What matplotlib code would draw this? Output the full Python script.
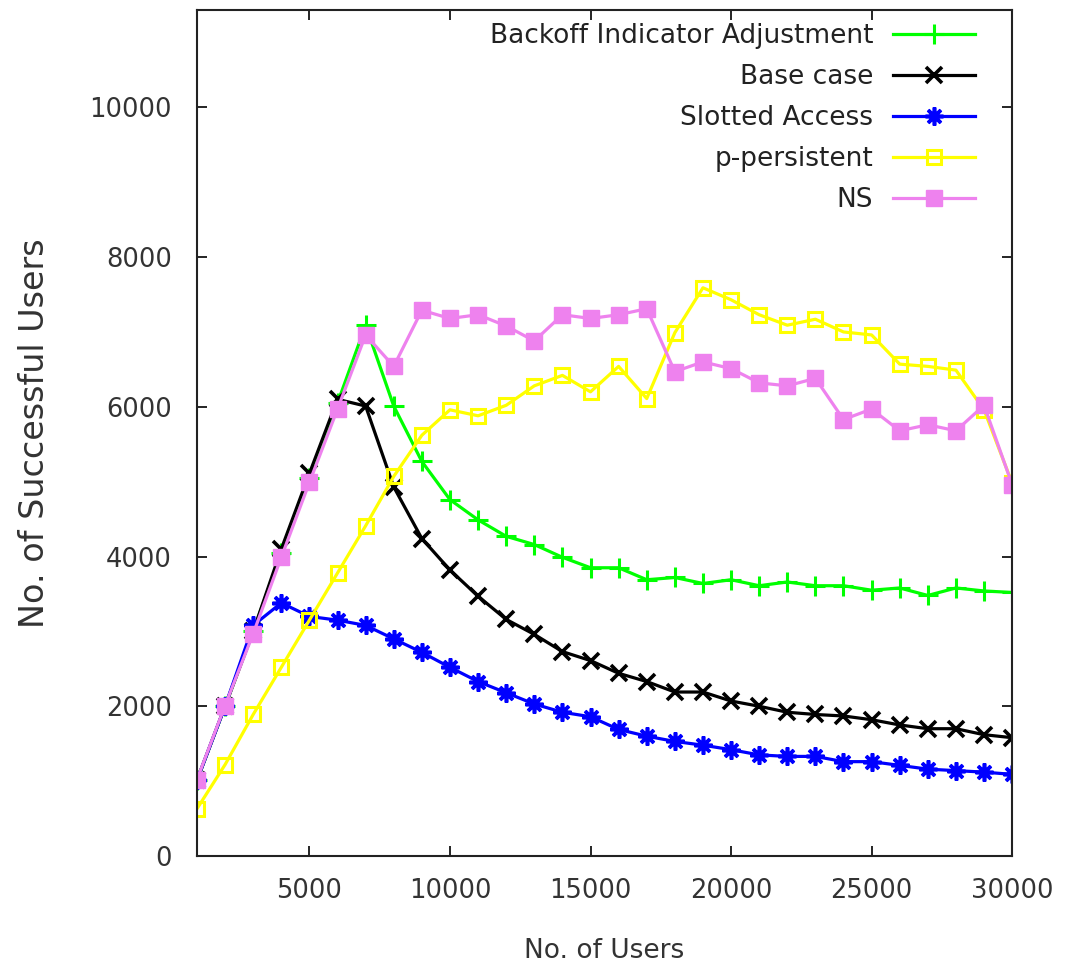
import matplotlib
matplotlib.use("Agg")
import matplotlib.pyplot as plt

users = [1000, 2000, 3000, 4000, 5000, 6000, 7000, 8000, 9000, 10000,
         11000, 12000, 13000, 14000, 15000, 16000, 17000, 18000, 19000, 20000,
         21000, 22000, 23000, 24000, 25000, 26000, 27000, 28000, 29000, 30000]

backoff = [1010, 2000, 3000, 4050, 5050, 6050, 7090, 6010, 5270, 4760,
           4490, 4270, 4160, 3990, 3850, 3850, 3690, 3720, 3640, 3690,
           3610, 3660, 3610, 3610, 3550, 3580, 3480, 3580, 3540, 3520]
base = [1010, 2000, 3000, 4100, 5110, 6100, 6010, 4930, 4240, 3820,
        3470, 3160, 2960, 2730, 2610, 2440, 2330, 2190, 2190, 2070,
        2000, 1920, 1890, 1870, 1820, 1750, 1700, 1700, 1620, 1580]
slotted = [1010, 2000, 3080, 3380, 3200, 3150, 3080, 2900, 2720, 2520,
           2330, 2180, 2030, 1920, 1860, 1690, 1600, 1530, 1480, 1420,
           1350, 1330, 1330, 1260, 1260, 1210, 1160, 1140, 1120, 1090]
ppersist = [630, 1220, 1890, 2520, 3150, 3780, 4410, 5070, 5620, 5960,
            5880, 6020, 6280, 6420, 6200, 6540, 6110, 6990, 7590, 7430,
            7230, 7090, 7170, 7000, 6960, 6570, 6540, 6490, 5960, 4980]
ns = [1020, 2010, 2970, 3990, 4990, 5970, 6960, 6540, 7290, 7180,
      7230, 7080, 6880, 7230, 7180, 7230, 7310, 6470, 6600, 6510,
      6320, 6280, 6380, 5830, 5970, 5680, 5760, 5680, 6020, 4960]

labels = ["Backoff Indicator Adjustment", "Base case", "Slotted Access",
          "p-persistent", "NS"]
xticks = [5000, 10000, 15000, 20000, 25000, 30000]
yticks = [0, 2000, 4000, 6000, 8000, 10000]

plt.rcParams['font.family'] = ['DejaVu Sans']
fig = plt.figure(figsize=(10.67, 9.66), dpi=100)
ax = fig.add_axes([0.1846, 0.1139, 0.764, 0.8757])

lw = 2.3
ax.plot(users, backoff, color='#00ff00', lw=lw, marker='+', ms=14, mew=2.2, label=labels[0])
ax.plot(users, base, color='black', lw=lw, marker='x', ms=11, mew=2.6, label=labels[1])
ax.plot(users, slotted, color='#0000ff', lw=lw, marker=(8, 2, 0), ms=13, mew=2.6, label=labels[2])
ax.plot(users, ppersist, color='#ffff00', lw=lw, marker='s', ms=10, mew=2.2,
        mfc='none', mec='#ffff00', label=labels[3])
ax.plot(users, ns, color='#ee82ee', lw=lw, marker='s', ms=12, mew=1, label=labels[4])

ax.set_xlim(1000, 30000)
ax.set_ylim(0, 11300)
ax.set_xticks(xticks)
ax.set_yticks(yticks)
ax.tick_params(direction='in', length=7, width=1.2, top=True, right=True,
               labelsize=18.5, labelcolor='#333333')
ax.tick_params(axis='x', pad=16)
ax.tick_params(axis='y', pad=18)
for s in ax.spines.values():
    s.set_linewidth(1.5)
    s.set_color('#222222')

ax.set_xlabel("No. of Users", fontsize=19, color='#333333', labelpad=24)
ax.set_ylabel("No. of Successful Users", fontsize=24, color='#333333', labelpad=28)

leg = ax.legend(loc='upper right', markerfirst=False, frameon=False, fontsize=19,
                handlelength=3.1, handletextpad=0.75, labelspacing=0.57,
                borderaxespad=0.15, bbox_to_anchor=(0.972, 1.002))
for t in leg.get_texts():
    t.set_color('#222222')

fig.savefig("out.png", dpi=100)
